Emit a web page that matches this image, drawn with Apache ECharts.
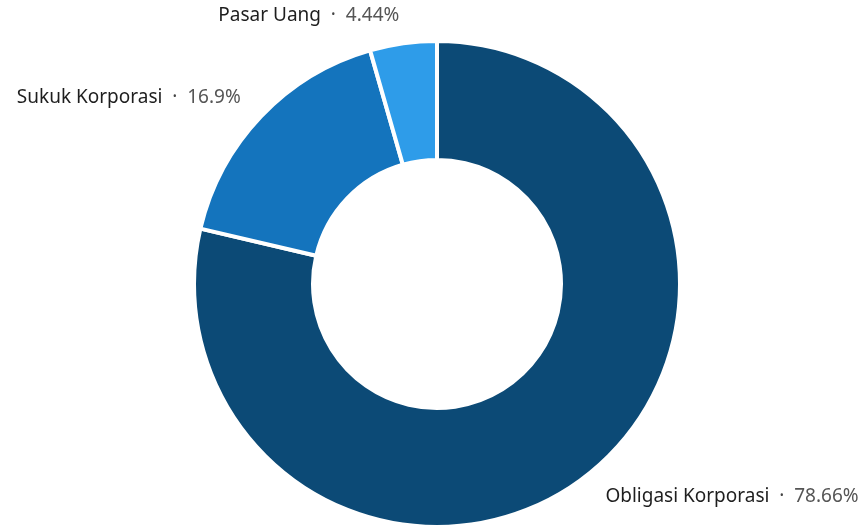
<!DOCTYPE html>
<html>
<head>
<meta charset="utf-8">
<script src="https://cdn.jsdelivr.net/npm/echarts@6/dist/echarts.min.js"></script>
<style>
  html, body { margin: 0; padding: 0; background: #ffffff; }
  #chart { width: 860px; height: 527px; }
</style>
</head>
<body>
<div id="chart"></div>
<script>
const categories = ["Obligasi Korporasi", "Sukuk Korporasi", "Pasar Uang"];
const shares = [78.66, 16.9, 4.44];
const colors = ["#0c4a76", "#1474bd", "#2e9ce9"];

const labelFont = "'Noto Sans', 'Open Sans', sans-serif";

let chartDom = document.getElementById("chart");
let myChart = echarts.init(chartDom);

let data = [];
for (let i = 0; i < categories.length; i++) {
    data.push({ name: categories[i], value: shares[i] });
}

let option = {
    color: colors,
    animation: false,
    series: [
        {
            type: "pie",
            center: [437, 284],
            radius: [124, 243],
            startAngle: 90,
            clockwise: true,
            avoidLabelOverlap: false,
            itemStyle: {
                borderColor: "#ffffff",
                borderWidth: 4,
            },
            label: {
                show: true,
                position: "outside",
                distanceToLabelLine: 0,
                fontFamily: labelFont,
                formatter: (p) => `{n|${p.name}}{d|  ·  }{v|${p.value}%}`,
                rich: {
                    n: { fontSize: 19, color: "#1e1e1e", fontFamily: labelFont },
                    d: { fontSize: 19, color: "#444444", fontFamily: labelFont },
                    v: { fontSize: 19, color: "#555555", fontFamily: labelFont },
                },
            },
            labelLine: {
                show: false,
                length: 28,
                length2: 0,
            },
            emphasis: { disabled: true },
            data,
        },
    ],
};

option && myChart.setOption(option);
</script>
</body>
</html>
